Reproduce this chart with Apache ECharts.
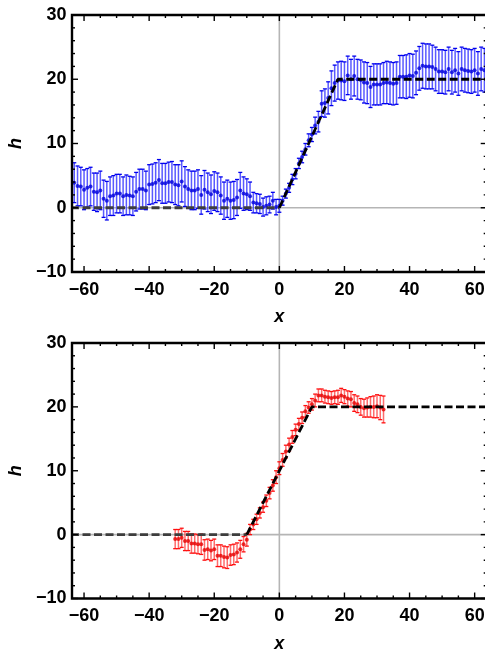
<!DOCTYPE html>
<html>
<head>
<meta charset="utf-8">
<script src="https://cdn.jsdelivr.net/npm/echarts@6/dist/echarts.min.js"></script>
<style>
  html, body { margin: 0; padding: 0; background: #ffffff; }
  #wrap { position: relative; width: 485px; height: 652px; }
  #plot, #frame { position: absolute; left: 0; top: 0; width: 485px; height: 652px; }
  #frame { pointer-events: none; }
</style>
</head>
<body>
<div id="wrap">
  <div id="plot"></div>
  <div id="frame"></div>
</div>
<script>
// ---- upper panel: height profile h(x) on sites -63..63 ----
const topX = [
  -63,-62,-61,-60,-59,-58,-57,-56,-55,-54,-53,-52,-51,-50,-49,-48,-47,-46,-45,-44,
  -43,-42,-41,-40,-39,-38,-37,-36,-35,-34,-33,-32,-31,-30,-29,-28,-27,-26,-25,-24,
  -23,-22,-21,-20,-19,-18,-17,-16,-15,-14,-13,-12,-11,-10,-9,-8,-7,-6,-5,-4,
  -3,-2,-1,0,1,2,3,4,5,6,7,8,9,10,11,12,13,14,15,16,
  17,18,19,20,21,22,23,24,25,26,27,28,29,30,31,32,33,34,35,36,
  37,38,39,40,41,42,43,44,45,46,47,48,49,50,51,52,53,54,55,56,
  57,58,59,60,61,62,63
];
const topH = [
  3.9,3.4,3.3,2.8,3.1,3.3,2.5,2.4,2.7,1.4,1.1,1.8,1.9,2.2,2.2,1.8,2.0,1.9,1.8,2.5,
  2.9,2.9,2.7,3.6,3.7,3.9,4.3,3.8,3.8,4.0,4.0,3.6,3.5,4.1,3.3,2.9,2.7,2.7,2.9,2.0,
  2.8,2.4,2.1,2.6,2.4,1.9,1.1,1.4,1.1,1.2,1.6,2.7,2.2,2.1,1.8,0.8,0.7,0.6,0.1,0.3,
  0.5,1.1,0.1,0.3,1.1,2.2,3.1,4.4,5.3,6.9,7.9,9.1,10.5,11.4,12.8,13.4,16.2,16.3,17.1,18.6,
  19.4,19.8,19.8,19.7,20.6,20.0,20.5,20.0,19.9,19.5,19.4,18.8,19.2,19.2,19.2,19.4,19.5,19.4,19.3,19.4,
  20.4,20.4,20.4,20.6,20.5,21.0,21.7,22.1,22.0,22.0,21.9,21.6,21.2,21.2,21.1,21.6,21.1,21.4,20.9,21.6,
  21.4,21.3,21.2,21.4,20.9,21.6,21.4
];
const topErr = [
  3.1,3.1,3.0,3.1,3.0,3.0,2.9,3.0,3.0,2.9,3.0,3.0,3.1,3.0,3.0,3.0,3.1,3.0,3.0,3.0,
  3.1,3.1,3.0,3.1,3.1,3.1,3.2,3.1,3.1,3.1,3.2,3.1,3.2,3.2,3.1,3.0,3.0,3.0,3.0,3.0,
  3.0,3.0,3.0,3.0,3.0,2.9,2.9,2.9,2.9,2.9,2.8,2.8,2.6,2.4,2.2,1.6,1.5,1.5,1.4,1.4,
  1.3,1.3,1.2,1.0,0.7,0.7,0.7,0.8,0.8,0.8,0.9,0.9,1.0,1.1,1.3,1.6,2.0,2.2,2.5,2.7,
  2.8,2.9,3.0,3.0,3.0,3.1,3.1,3.1,3.1,3.2,3.2,3.2,3.2,3.2,3.2,3.2,3.3,3.3,3.3,3.3,
  3.3,3.3,3.4,3.4,3.4,3.4,3.4,3.5,3.5,3.5,3.4,3.4,3.4,3.4,3.4,3.4,3.4,3.4,3.4,3.4,
  3.4,3.4,3.4,3.4,3.4,3.4,3.4
];
// reference profile for the upper panel: flat at 0, ramp to 20 at x = 18, flat at 20
const topFlatX = [-64, 0];
const topFlatY = [0, 0];
const topRampX = [0, 18, 64];
const topRampY = [0, 20, 20];

// ---- lower panel: height profile h(x) on sites -32..32 ----
const botX = [
  -32,-31,-30,-29,-28,-27,-26,-25,-24,-23,-22,-21,-20,-19,-18,-17,-16,-15,-14,-13,
  -12,-11,-10,-9,-8,-7,-6,-5,-4,-3,-2,-1,0,1,2,3,4,5,6,7,
  8,9,10,11,12,13,14,15,16,17,18,19,20,21,22,23,24,25,26,27,
  28,29,30,31,32
];
const botH = [
  -0.7,-0.7,-0.5,-1.0,-1.0,-1.4,-1.4,-1.5,-1.5,-2.4,-2.3,-2.5,-2.3,-3.3,-3.3,-3.5,-3.6,-3.2,-3.1,-2.8,
  -2.3,-1.5,-0.8,0.8,1.6,2.4,3.4,4.3,5.3,6.5,7.7,9.0,10.4,11.7,13.0,14.1,15.3,16.4,17.3,18.3,
  19.3,19.9,20.4,21.0,21.8,21.8,21.6,21.5,21.4,21.5,21.5,21.8,21.6,21.3,21.2,20.6,20.4,20.0,19.8,19.9,
  20.0,20.0,20.1,19.9,19.6
];
const botErr = [
  1.5,1.5,1.5,1.5,1.5,1.5,1.5,1.5,1.6,1.6,1.6,1.6,1.6,1.7,1.7,1.7,1.7,1.6,1.6,1.5,
  1.4,1.2,1.0,0.8,0.8,0.8,0.8,0.8,0.9,0.9,0.9,1.0,1.0,1.0,1.0,1.0,1.0,0.9,0.9,0.9,
  0.9,0.9,0.9,1.0,1.0,1.0,1.0,1.0,1.0,1.0,1.1,1.1,1.1,1.2,1.2,1.3,1.3,1.3,1.4,1.5,
  1.6,1.7,1.8,1.9,2.1
];
// reference profile for the lower panel: flat at 0, ramp from x = -10 to x = 10, flat at 20
const botFlatX = [-64, -10];
const botFlatY = [0, 0];
const botRampX = [-10, 10, 64];
const botRampY = [0, 20, 20];

// ---- axes ----
const X_MIN = -63.7, X_MAX = 63.7;
const Y_MIN = -10, Y_MAX = 30;
const xMajor = [-60, -40, -20, 0, 20, 40, 60];
const xMinor = [-55, -50, -45, -35, -30, -25, -15, -10, -5, 5, 10, 15, 25, 30, 35, 45, 50, 55];
const yMajor = [-10, 0, 10, 20, 30];
const yMinor = [-8, -6, -4, -2, 2, 4, 6, 8, 12, 14, 16, 18, 22, 24, 26, 28];
const xName = 'x';
const yName = 'h';

const FONT = '"Liberation Sans", Arial, Helvetica, sans-serif';
const fmt = v => (v < 0 ? '\u2212' + Math.abs(v) : String(v));

const GRIDS = [
  { left: 72, top: 15, width: 414.7, height: 257, outerBoundsMode: 'none' },
  { left: 72, top: 343, width: 414.7, height: 255.5, outerBoundsMode: 'none' }
];
const bareX = g => ({ gridIndex: g, type: 'value', min: X_MIN, max: X_MAX, show: false });
const bareY = g => ({ gridIndex: g, type: 'value', min: Y_MIN, max: Y_MAX, show: false });

// ---- gray zero lines, drawn beneath the data ----
function zeroLines(ax) {
  return {
    type: 'custom', xAxisIndex: ax, yAxisIndex: ax, silent: true, z: 0, clip: false,
    data: [[0, 0]],
    renderItem: (params, api) => {
      const r = params.coordSys;
      const o = api.coord([0, 0]);
      return {
        type: 'group',
        children: [
          { type: 'line', shape: { x1: o[0], y1: r.y, x2: o[0], y2: r.y + r.height },
            style: { stroke: '#b5b5b5', lineWidth: 1.6 } },
          { type: 'line', shape: { x1: r.x, y1: o[1], x2: r.x + r.width, y2: o[1] },
            style: { stroke: '#b5b5b5', lineWidth: 1.6 } }
        ]
      };
    }
  };
}

// ---- frame, ticks, tick labels and axis names of one panel ----
function frameSeries(ax, nameDrop) {
  return {
    type: 'custom', xAxisIndex: ax, yAxisIndex: ax, z: 5, clip: false,
    data: [[0, 0]],
    renderItem: (params, api) => {
      const r = params.coordSys;
      const L = r.x, T = r.y, R = r.x + r.width, B = r.y + r.height;
      const kids = [];
      const seg = (x1, y1, x2, y2, w) =>
        kids.push({ type: 'line', shape: { x1: x1, y1: y1, x2: x2, y2: y2 },
          style: { stroke: '#000', lineWidth: w } });
      const txt = (s, x, y, align, italic) =>
        kids.push({ type: 'text', style: { text: s, x: x, y: y, align: align, verticalAlign: 'middle',
          fontSize: 18, fontWeight: 'bold', fontStyle: italic ? 'italic' : 'normal', fontFamily: FONT, fill: '#000' } });

      kids.push({ type: 'rect', shape: { x: L, y: T, width: R - L, height: B - T },
        style: { fill: 'none', stroke: '#000', lineWidth: 2.4 } });

      xMajor.forEach(v => {
        const px = api.coord([v, 0])[0];
        seg(px, B, px, B - 6, 1.4);
        seg(px, T, px, T + 6, 1.4);
        txt(fmt(v), px, B + 18, 'center', false);
      });
      xMinor.forEach(v => {
        const px = api.coord([v, 0])[0];
        seg(px, B, px, B - 3, 1.4);
        seg(px, T, px, T + 3, 1.4);
      });
      yMajor.forEach(v => {
        const py = api.coord([0, v])[1];
        seg(L, py, L + 6, py, 1.4);
        seg(R, py, R - 6, py, 1.4);
        txt(fmt(v), L - 5.5, py, 'right', false);
      });
      yMinor.forEach(v => {
        const py = api.coord([0, v])[1];
        seg(L, py, L + 3, py, 1.4);
        seg(R, py, R - 3, py, 1.4);
      });

      txt(xName, (L + R) / 2, B + nameDrop, 'center', true);
      kids.push({ type: 'text', x: 16, y: (T + B) / 2, rotation: Math.PI / 2,
        style: { text: yName, x: 0, y: 0, align: 'center', verticalAlign: 'middle',
          fontSize: 18, fontWeight: 'bold', fontStyle: 'italic', fontFamily: FONT, fill: '#000' } });

      return { type: 'group', children: kids };
    }
  };
}

function errorBars(xs, hs, es, ax, stem, cap) {
  return {
    type: 'custom', xAxisIndex: ax, yAxisIndex: ax, silent: true, z: 2,
    data: xs.map((x, i) => [x, hs[i] - es[i], hs[i] + es[i]]),
    encode: { x: 0, y: [1, 2] },
    renderItem: (params, api) => {
      const lo = api.coord([api.value(0), api.value(1)]);
      const hi = api.coord([api.value(0), api.value(2)]);
      const w = 2;
      return {
        type: 'group',
        children: [
          { type: 'line', shape: { x1: lo[0], y1: lo[1], x2: hi[0], y2: hi[1] },
            style: { stroke: stem, lineWidth: 1.5 } },
          { type: 'line', shape: { x1: lo[0] - w, y1: lo[1], x2: lo[0] + w, y2: lo[1] },
            style: { stroke: cap, lineWidth: 1.3 } },
          { type: 'line', shape: { x1: hi[0] - w, y1: hi[1], x2: hi[0] + w, y2: hi[1] },
            style: { stroke: cap, lineWidth: 1.3 } }
        ]
      };
    }
  };
}

function points(xs, hs, ax, color) {
  return {
    type: 'scatter', xAxisIndex: ax, yAxisIndex: ax, z: 3, silent: true,
    symbol: 'circle', symbolSize: 4,
    itemStyle: { color: color },
    data: xs.map((x, i) => [x, hs[i]])
  };
}

function dashed(xs, ys, ax, color) {
  return {
    type: 'line', xAxisIndex: ax, yAxisIndex: ax, z: 4, silent: true,
    symbol: 'none', showSymbol: false, clip: true,
    lineStyle: { color: color, width: 2.8, type: [8, 3.5] },
    data: xs.map((x, i) => [x, ys[i]])
  };
}

// data layer
const plot = echarts.init(document.getElementById('plot'), null, { renderer: 'canvas' });
plot.setOption({
  animation: false,
  backgroundColor: '#ffffff',
  grid: GRIDS,
  xAxis: [bareX(0), bareX(1)],
  yAxis: [bareY(0), bareY(1)],
  series: [
    zeroLines(0),
    errorBars(topX, topH, topErr, 0, 'rgba(60,60,255,0.85)', '#0000ee'),
    points(topX, topH, 0, '#0000dd'),
    dashed(topFlatX, topFlatY, 0, '#3d3d3d'),
    dashed(topRampX, topRampY, 0, '#000000'),

    zeroLines(1),
    errorBars(botX, botH, botErr, 1, 'rgba(255,70,70,0.8)', '#ff1010'),
    points(botX, botH, 1, '#e60000'),
    dashed(botFlatX, botFlatY, 1, '#3d3d3d'),
    dashed(botRampX, botRampY, 1, '#000000')
  ]
});

// frame layer on top, sharing the same grids and scales
const frame = echarts.init(document.getElementById('frame'), null, { renderer: 'canvas' });
frame.setOption({
  animation: false,
  backgroundColor: 'rgba(0,0,0,0)',
  grid: GRIDS,
  xAxis: [bareX(0), bareX(1)],
  yAxis: [bareY(0), bareY(1)],
  series: [frameSeries(0, 45), frameSeries(1, 46)]
});
</script>
</body>
</html>
